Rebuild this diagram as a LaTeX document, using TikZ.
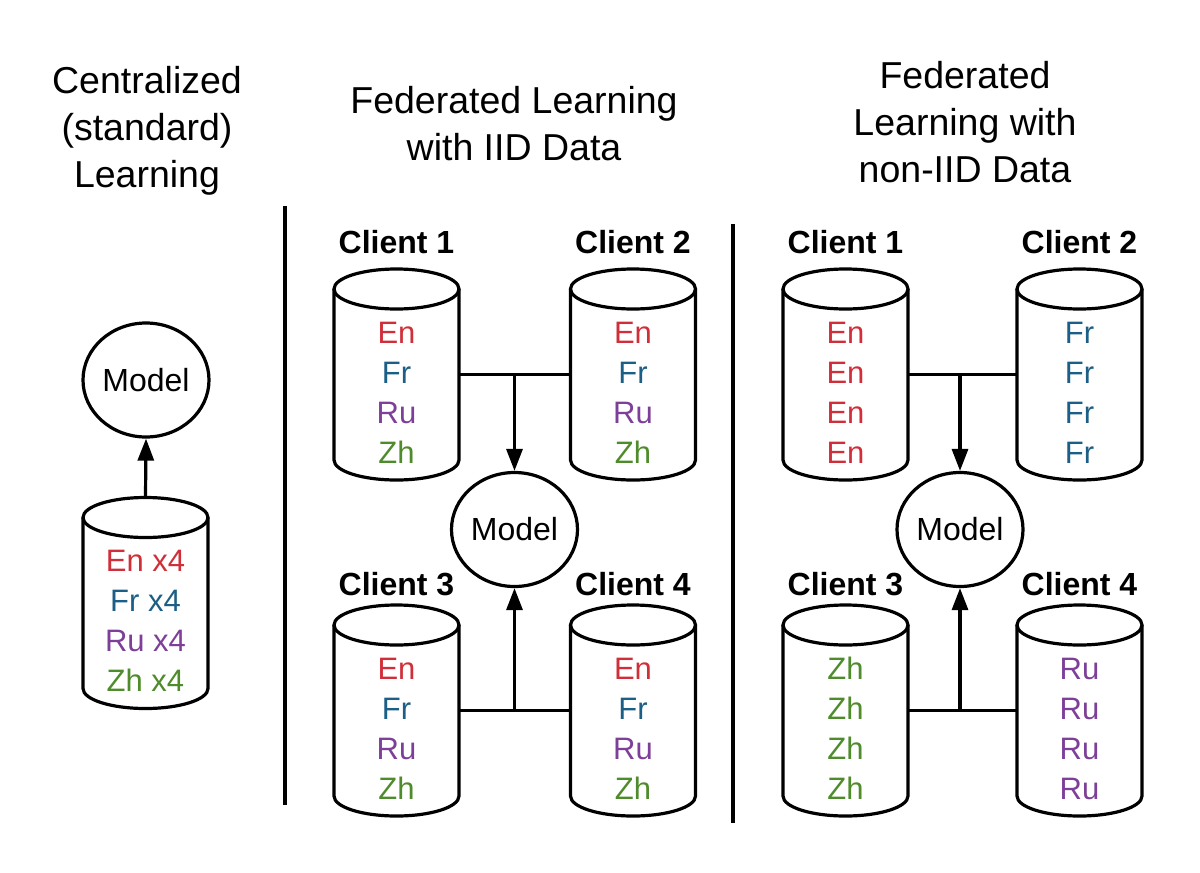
\documentclass[tikz,border=0pt]{standalone}
\usepackage{fontspec}
\setmainfont{Liberation Sans}
\usetikzlibrary{arrows.meta,shapes.geometric,calc}
\definecolor{en}{HTML}{D02F3A}
\definecolor{fr}{HTML}{1B5E86}
\definecolor{ru}{HTML}{7D3F98}
\definecolor{zh}{HTML}{4E8B2B}
\tikzset{
  ln/.style={line width=3.2pt, line cap=butt},
  dbbody/.style={rectangle, minimum width=125pt, minimum height=171pt, inner sep=0pt, outer sep=0pt},
  lang/.style={font=\fontsize{31}{31}\selectfont, anchor=base, inner sep=0pt},
  client/.style={font=\fontsize{32}{32}\selectfont\bfseries, anchor=base, inner sep=0pt},
  model/.style={ellipse, draw, line width=3.2pt, minimum width=126pt, minimum height=114pt, inner sep=0pt, font=\fontsize{32}{32}\selectfont},
  titlebox/.style={font=\fontsize{37.5}{47}\selectfont, align=center, anchor=base, inner sep=0pt},
  conn/.style={ln},
  arr/.style={ln, -{Triangle[length=22pt,width=16pt]}},
}
\newcommand\dbcyl[3]{%
  \node[dbbody] (#1) at (#2,#3) {};
  \draw[ln] (#1.north) ellipse [x radius=62.5pt, y radius=20pt];
  \draw[ln] (#1.north west) -- (#1.south west) arc[start angle=180, end angle=360, x radius=62.5pt, y radius=20pt] -- (#1.north east);
}
\newcommand\fourlangs[2]{%
  \foreach \t/\c [count=\i] in {#2}{%
    \node[lang, text=\c] (#1-l\i) at ($(#1.north)+(0,{54+40*(\i-1)})$) {\t};
  }%
}
\begin{document}
\begin{tikzpicture}[x=1pt,y=-1pt]
\useasboundingbox (0,0) rectangle (1200,873);
\fill[white] (0,0) rectangle (1200,873);

% titles (anchor=base is the baseline of the last line)
\node[titlebox] (t0) at (147,187) {Centralized\\(standard)\\Learning};
\node[titlebox] (t1) at (514,160) {Federated Learning\\with IID Data};
\node[titlebox] (t2) at (965,182) {Federated\\Learning with\\non-IID Data};

% dividers
\coordinate (d1a) at (285,206); \coordinate (d1b) at (285,805);
\coordinate (d2a) at (733,224); \coordinate (d2b) at (733,823);
\draw[ln] (d1a) -- (d1b);
\draw[ln] (d2a) -- (d2b);

% centralized
\node[model] (m0) at (146,380) {Model};
\dbcyl{c0}{145.5}{603}
\fourlangs{c0}{En x4/en,Fr x4/fr,Ru x4/ru,Zh x4/zh}
\draw[arr] ([yshift=20pt]c0.north) -- (m0.south);

% IID
\node[model] (m1) at (514.5,529.5) {Model};
\dbcyl{c11}{396.5}{374.5}
\dbcyl{c12}{633}{374.5}
\dbcyl{c13}{396.5}{710.5}
\dbcyl{c14}{633}{710.5}
\fourlangs{c11}{En/en,Fr/fr,Ru/ru,Zh/zh}
\fourlangs{c12}{En/en,Fr/fr,Ru/ru,Zh/zh}
\fourlangs{c13}{En/en,Fr/fr,Ru/ru,Zh/zh}
\fourlangs{c14}{En/en,Fr/fr,Ru/ru,Zh/zh}
\node[client] (k11) at (396.5,253) {Client 1};
\node[client] (k12) at (633,253) {Client 2};
\node[client] (k13) at (396.5,595) {Client 3};
\node[client] (k14) at (633,595) {Client 4};
\draw[conn] (c11.east) -- (c12.west);
\draw[arr] (m1 |- c11.east) -- (m1.north);
\draw[conn] (c13.east) -- (c14.west);
\draw[arr] (m1 |- c13.east) -- (m1.south);

% non-IID
\node[model] (m2) at (960,529.5) {Model};
\dbcyl{c21}{845.5}{374.5}
\dbcyl{c22}{1079.5}{374.5}
\dbcyl{c23}{845.5}{710.5}
\dbcyl{c24}{1079.5}{710.5}
\fourlangs{c21}{En/en,En/en,En/en,En/en}
\fourlangs{c22}{Fr/fr,Fr/fr,Fr/fr,Fr/fr}
\fourlangs{c23}{Zh/zh,Zh/zh,Zh/zh,Zh/zh}
\fourlangs{c24}{Ru/ru,Ru/ru,Ru/ru,Ru/ru}
\node[client] (k21) at (845.5,253) {Client 1};
\node[client] (k22) at (1079.5,253) {Client 2};
\node[client] (k23) at (845.5,595) {Client 3};
\node[client] (k24) at (1079.5,595) {Client 4};
\draw[conn] (c21.east) -- (c22.west);
\draw[arr] (m2 |- c21.east) -- (m2.north);
\draw[conn] (c23.east) -- (c24.west);
\draw[arr] (m2 |- c23.east) -- (m2.south);
\end{tikzpicture}
\end{document}
